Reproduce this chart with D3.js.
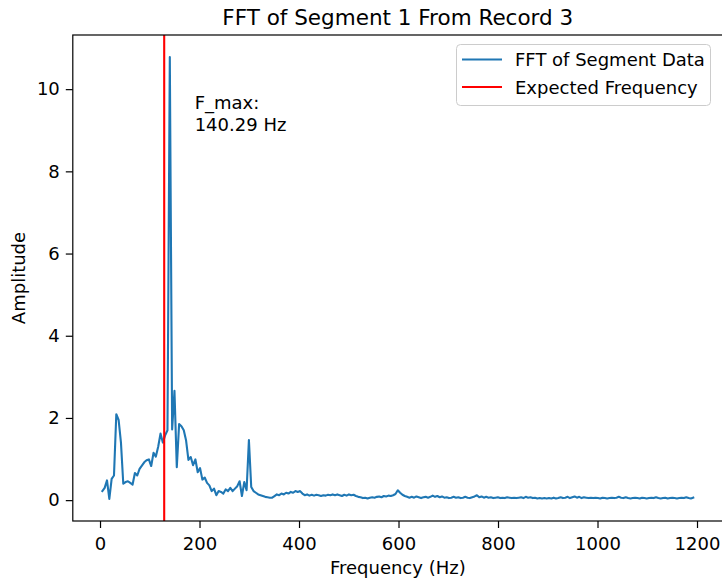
<!DOCTYPE html>
<html><head><meta charset="utf-8">
<script src="https://cdn.jsdelivr.net/npm/d3@7"></script>
<style>
body{margin:0;background:#fff}
svg text{font-family:"DejaVu Sans",sans-serif;fill:#000}
</style>
</head><body>
<svg id="chart" width="722" height="579"></svg>
<script>
// ---- data ----
const chartTitle = "FFT of Segment 1 From Record 3";
const xLabel = "Frequency (Hz)";
const yLabel = "Amplitude";
const binWidth = 4.6763;            // FFT bin spacing (Hz); bin k sits at k * binWidth
const amplitudes = [
  0.22, 0.30, 0.48, 0.03, 0.52, 0.60, 2.09, 1.95, 1.40, 0.40,
  0.44, 0.46, 0.42, 0.38, 0.66, 0.60, 0.76, 0.84, 0.92, 0.97,
  0.99, 0.83, 1.15, 1.06, 1.30, 1.62, 1.40, 1.58, 1.70, 10.78,
  1.72, 2.66, 0.80, 1.85, 1.80, 1.70, 1.45, 0.98, 1.05, 0.85,
  0.99, 0.68, 0.78, 0.50, 0.55, 0.42, 0.36, 0.22, 0.28, 0.12,
  0.22, 0.20, 0.16, 0.26, 0.22, 0.30, 0.22, 0.28, 0.34, 0.46,
  0.10, 0.44, 0.24, 1.46, 0.32, 0.22, 0.18, 0.14, 0.12, 0.10,
  0.08, 0.07, 0.06, 0.06, 0.10, 0.14, 0.12, 0.16, 0.14, 0.18,
  0.16, 0.20, 0.18, 0.22, 0.20, 0.22, 0.16, 0.12, 0.14, 0.11,
  0.13, 0.11, 0.13, 0.12, 0.10, 0.12, 0.11, 0.13, 0.12, 0.14,
  0.12, 0.14, 0.12, 0.10, 0.13, 0.11, 0.14, 0.12, 0.13, 0.10,
  0.08, 0.07, 0.05, 0.06, 0.04, 0.06, 0.07, 0.06, 0.08, 0.09,
  0.07, 0.10, 0.09, 0.11, 0.10, 0.12, 0.15, 0.24, 0.18, 0.13,
  0.10, 0.08, 0.06, 0.08, 0.06, 0.09, 0.07, 0.05, 0.07, 0.08,
  0.06, 0.08, 0.11, 0.08, 0.10, 0.07, 0.09, 0.06, 0.07, 0.05,
  0.06, 0.08, 0.06, 0.07, 0.05, 0.06, 0.08, 0.06, 0.05, 0.07,
  0.09, 0.12, 0.07, 0.09, 0.06, 0.08, 0.06, 0.07, 0.05, 0.06,
  0.07, 0.05, 0.06, 0.05, 0.07, 0.06, 0.05, 0.06, 0.05, 0.06,
  0.07, 0.05, 0.08, 0.06, 0.07, 0.05, 0.06, 0.04, 0.05, 0.04,
  0.05, 0.04, 0.05, 0.04, 0.06, 0.04, 0.05, 0.07, 0.05, 0.06,
  0.08, 0.05, 0.07, 0.09, 0.06, 0.08, 0.05, 0.07, 0.06, 0.05,
  0.06, 0.05, 0.06, 0.05, 0.04, 0.06, 0.05, 0.04, 0.05, 0.06,
  0.05, 0.06, 0.08, 0.06, 0.05, 0.07, 0.05, 0.04, 0.05, 0.06,
  0.05, 0.04, 0.06, 0.05, 0.04, 0.05, 0.06, 0.05, 0.07, 0.05,
  0.04, 0.05, 0.06, 0.04, 0.05, 0.06, 0.05, 0.04, 0.05, 0.06,
  0.05, 0.07, 0.05, 0.04, 0.06
];
const expectedFrequency = 129;
const fMax = 140.29;
const xTickValues = [0, 200, 400, 600, 800, 1000, 1200];
const yTickValues = [0, 2, 4, 6, 8, 10];
const legendLabels = ["FFT of Segment Data", "Expected Frequency"];
const seriesColors = ["#1f77b4", "#ff0000"];

// ---- layout ----
const W = 722, H = 579;
const plot = {left: 72.8, right: 722.8, top: 35, bottom: 521};
const FS = 18;

const points = amplitudes.map((a, i) => ({f: (i + 1) * binWidth, a}));

function padded(ext) {
  const d = (ext[1] - ext[0]) * 0.05;
  return [ext[0] - d, ext[1] + d];
}
const x = d3.scaleLinear().domain(padded(d3.extent(points, d => d.f))).range([plot.left, plot.right]);
const y = d3.scaleLinear().domain(padded(d3.extent(points, d => d.a))).range([plot.bottom, plot.top]);

const svg = d3.select("#chart");
svg.append("rect").attr("width", W).attr("height", H).attr("fill", "#fff");

svg.append("defs").append("clipPath").attr("id", "clip")
  .append("rect").attr("x", plot.left).attr("y", plot.top)
  .attr("width", plot.right - plot.left).attr("height", plot.bottom - plot.top);

const g = svg.append("g").attr("clip-path", "url(#clip)");

// FFT line
g.append("path").datum(points)
  .attr("fill", "none").attr("stroke", seriesColors[0]).attr("stroke-width", 2.1)
  .attr("stroke-linejoin", "round").attr("stroke-linecap", "square")
  .attr("d", d3.line().x(d => x(d.f)).y(d => y(d.a)));

// expected frequency line
g.append("line")
  .attr("x1", x(expectedFrequency)).attr("x2", x(expectedFrequency))
  .attr("y1", plot.top).attr("y2", plot.bottom)
  .attr("stroke", seriesColors[1]).attr("stroke-width", 2.1);

// axes
const xAxis = d3.axisBottom(x).tickValues(xTickValues).tickSize(7).tickPadding(9).tickFormat(d3.format("d"));
const yAxis = d3.axisLeft(y).tickValues(yTickValues).tickSize(7).tickPadding(6).tickFormat(d3.format("d"));

const gx = svg.append("g").attr("transform", `translate(0,${plot.bottom})`).call(xAxis);
const gy = svg.append("g").attr("transform", `translate(${plot.left},0)`).call(yAxis);
[gx, gy].forEach(a => {
  a.select(".domain").remove();
  a.selectAll(".tick line").attr("stroke", "#000").attr("stroke-width", 1.2);
  a.selectAll(".tick text").attr("font-size", FS).attr("font-family", "DejaVu Sans").attr("fill", "#000");
});

// spines
svg.append("rect")
  .attr("x", plot.left).attr("y", plot.top)
  .attr("width", plot.right - plot.left).attr("height", plot.bottom - plot.top)
  .attr("fill", "none").attr("stroke", "#000").attr("stroke-width", 1.2);

// title & labels
svg.append("text").attr("x", (plot.left + plot.right) / 2).attr("y", 25)
  .attr("text-anchor", "middle").attr("font-size", 21.5).text(chartTitle);
svg.append("text").attr("x", (plot.left + plot.right) / 2).attr("y", 574)
  .attr("text-anchor", "middle").attr("font-size", FS).text(xLabel);
svg.append("text")
  .attr("transform", `translate(25,${(plot.top + plot.bottom) / 2}) rotate(-90)`)
  .attr("text-anchor", "middle").attr("font-size", FS).text(yLabel);

// annotation
const ann = svg.append("text").attr("font-size", FS)
  .attr("x", x(fMax + 50)).attr("y", 108.5);
ann.append("tspan").attr("x", x(fMax + 50)).text("F_max:");
ann.append("tspan").attr("x", x(fMax + 50)).attr("dy", 22.5).text(`${fMax.toFixed(2)} Hz`);

// legend
const lg = svg.append("g");
lg.append("rect").attr("x", 456.5).attr("y", 44.5).attr("width", 254).attr("height", 61)
  .attr("rx", 4).attr("fill", "#fff").attr("fill-opacity", 0.8)
  .attr("stroke", "#cccccc").attr("stroke-width", 1);
legendLabels.forEach((lab, i) => {
  const cy = 59.5 + i * 27.5;
  lg.append("line").attr("x1", 462).attr("x2", 502).attr("y1", cy).attr("y2", cy)
    .attr("stroke", seriesColors[i]).attr("stroke-width", 2.1);
  lg.append("text").attr("x", 515).attr("y", cy + 6.5).attr("font-size", FS).text(lab);
});
</script>
</body></html>
